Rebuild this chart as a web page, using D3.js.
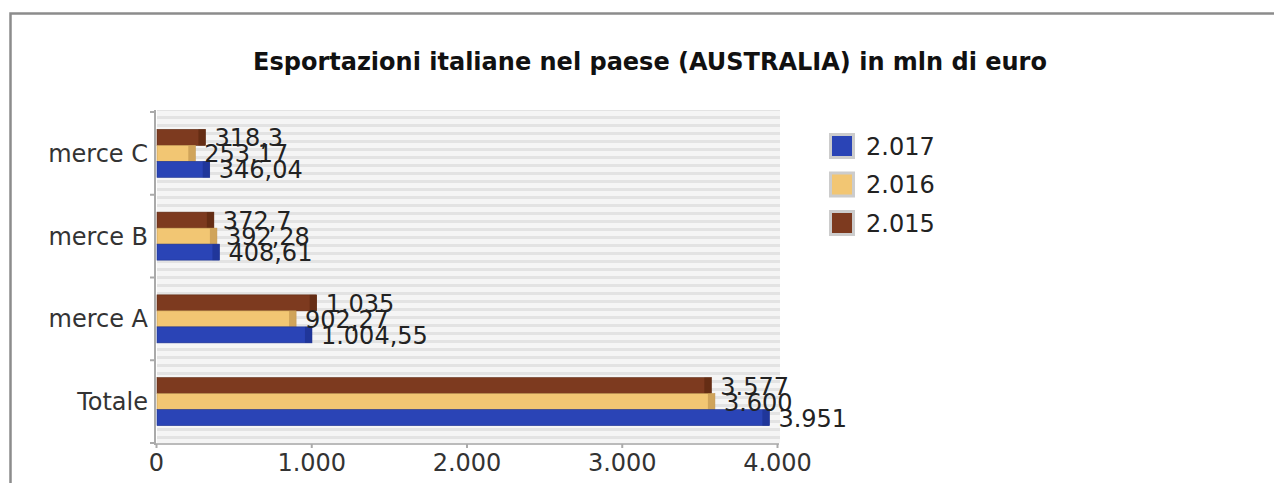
<!DOCTYPE html>
<html><head><meta charset="utf-8">
<script src="https://cdn.jsdelivr.net/npm/d3@7"></script>
<style>body{margin:0;background:#fff}svg{display:block}</style>
</head><body>
<svg id="c" width="1274" height="483"></svg>
<script>
const categories = ["merce C", "merce B", "merce A", "Totale"];
const seriesNames = ["2.015", "2.016", "2.017"];
const values2015 = [318.3, 372.7, 1035, 3577];
const values2016 = [253.17, 392.28, 902.27, 3600];
const values2017 = [346.04, 408.61, 1004.55, 3951];
const xTicks = [0, 1000, 2000, 3000, 4000];
const legendOrder = ["2.017", "2.016", "2.015"];

const series = [
  {name: "2.015", values: values2015, fill: "#7d3a1f", dark: "#5e2912"},
  {name: "2.016", values: values2016, fill: "#f2c673", dark: "#c49852"},
  {name: "2.017", values: values2017, fill: "#2a44b6", dark: "#1d3290"}
];
const byName = Object.fromEntries(series.map(s => [s.name, s]));

const it = d3.formatLocale({decimal: ",", thousands: ".", grouping: [3], currency: ["€", ""]});
const fmtVal = it.format(",.2~f");
const fmtTick = it.format(",");

const svg = d3.select("#c");
const font = "DejaVu Sans, sans-serif";
const fs = 24;

// frame
svg.append("path").attr("d", "M10.5,483 V13.5 H1274").attr("fill", "none").attr("stroke", "#8c8c8c").attr("stroke-width", 2.5);

const L = 156, R = 777, T = 112, B = 443;
const x = d3.scaleLinear().domain([0, 4000]).range([L, R]);
const y = d3.scaleBand().domain(categories).range([T, B]).paddingInner(0.42).paddingOuter(0.21);
const yInner = d3.scaleBand().domain(seriesNames).range([0, y.bandwidth()]);

// stripes
const defs = svg.append("defs");
const pat = defs.append("pattern").attr("id", "stripes").attr("patternUnits", "userSpaceOnUse")
  .attr("width", 8).attr("height", 8).attr("y", T);
pat.append("rect").attr("width", 8).attr("height", 8).attr("fill", "#f5f5f5");
pat.append("rect").attr("y", 4).attr("width", 8).attr("height", 3).attr("fill", "#e3e3e3");
svg.append("rect").attr("x", L + 1).attr("y", T - 2).attr("width", R + 2 - L).attr("height", B - T + 2).attr("fill", "url(#stripes)");

// title
svg.append("text").attr("x", 650).attr("y", 70).attr("text-anchor", "middle")
  .attr("font-family", font).attr("font-weight", "bold").attr("font-size", 24).attr("fill", "#111")
  .text("Esportazioni italiane nel paese (AUSTRALIA) in mln di euro");

// y axis
const yAxisG = svg.append("g").attr("transform", `translate(${L - 1},0)`);
yAxisG.append("line").attr("y1", T - 2).attr("y2", B + 2).attr("stroke", "#aaa").attr("stroke-width", 2);
const bounds = [T].concat(categories.map(c => y(c) + y.bandwidth() + y.step() * y.paddingInner() / 2));
bounds[bounds.length - 1] = B;
yAxisG.selectAll("line.tk").data(bounds).join("line").attr("class", "tk")
  .attr("x1", -5).attr("x2", 0).attr("y1", d => d).attr("y2", d => d).attr("stroke", "#aaa").attr("stroke-width", 2);
svg.append("g").selectAll("text").data(categories).join("text")
  .attr("x", L - 8).attr("y", d => y(d) + y.bandwidth() / 2)
  .attr("dy", "0.35em").attr("text-anchor", "end")
  .attr("font-family", font).attr("font-size", fs).attr("fill", "#333").text(d => d);

// x axis
const xAxis = d3.axisBottom(x).tickValues(xTicks).tickFormat(fmtTick).tickSize(4).tickPadding(6);
const xg = svg.append("g").attr("transform", `translate(0,${B + 1})`).call(xAxis);
xg.select(".domain").attr("stroke", "#bbb").attr("stroke-width", 2).attr("d", `M${L},0H${R + 2}`);
xg.selectAll(".tick line").attr("stroke", "#aaa").attr("stroke-width", 2);
xg.selectAll(".tick text").attr("font-family", font).attr("font-size", fs).attr("fill", "#333");

// bars
const gBars = svg.append("g");
series.forEach(s => {
  const g = gBars.append("g");
  const data = categories.map((c, i) => ({c, v: s.values[i]}));
  g.selectAll("rect.b").data(data).join("rect").attr("class", "b")
    .attr("x", x(0) + 1).attr("y", d => y(d.c) + yInner(s.name))
    .attr("width", d => x(d.v) - x(0) - 1).attr("height", yInner.bandwidth())
    .attr("fill", s.fill).attr("stroke", s.dark).attr("stroke-width", 0.6);
  g.selectAll("rect.e").data(data).join("rect").attr("class", "e")
    .attr("x", d => x(d.v) - 7).attr("y", d => y(d.c) + yInner(s.name))
    .attr("width", 7).attr("height", yInner.bandwidth())
    .attr("fill", s.dark).attr("opacity", 0.75);
});
// labels
series.forEach(s => {
  const data = categories.map((c, i) => ({c, v: s.values[i]}));
  gBars.append("g").selectAll("text").data(data).join("text")
    .attr("x", d => x(d.v) + 9).attr("y", d => y(d.c) + yInner(s.name) + yInner.bandwidth() / 2)
    .attr("dy", "0.38em").attr("font-family", font).attr("font-size", fs).attr("fill", "#222")
    .text(d => fmtVal(d.v));
});

// legend
const lg = svg.append("g").attr("transform", "translate(829,133)");
legendOrder.forEach((n, i) => {
  const s = byName[n];
  const g = lg.append("g").attr("transform", `translate(0,${i * 38.5})`);
  g.append("rect").attr("x", 0).attr("y", 0).attr("width", 26).attr("height", 26).attr("fill", "#ccc");
  g.append("rect").attr("x", 3).attr("y", 3).attr("width", 20).attr("height", 20).attr("fill", s.fill);
  g.append("text").attr("x", 37).attr("y", 13).attr("dy", "0.36em")
    .attr("font-family", font).attr("font-size", fs).attr("fill", "#222").text(n);
});
</script>
</body></html>
